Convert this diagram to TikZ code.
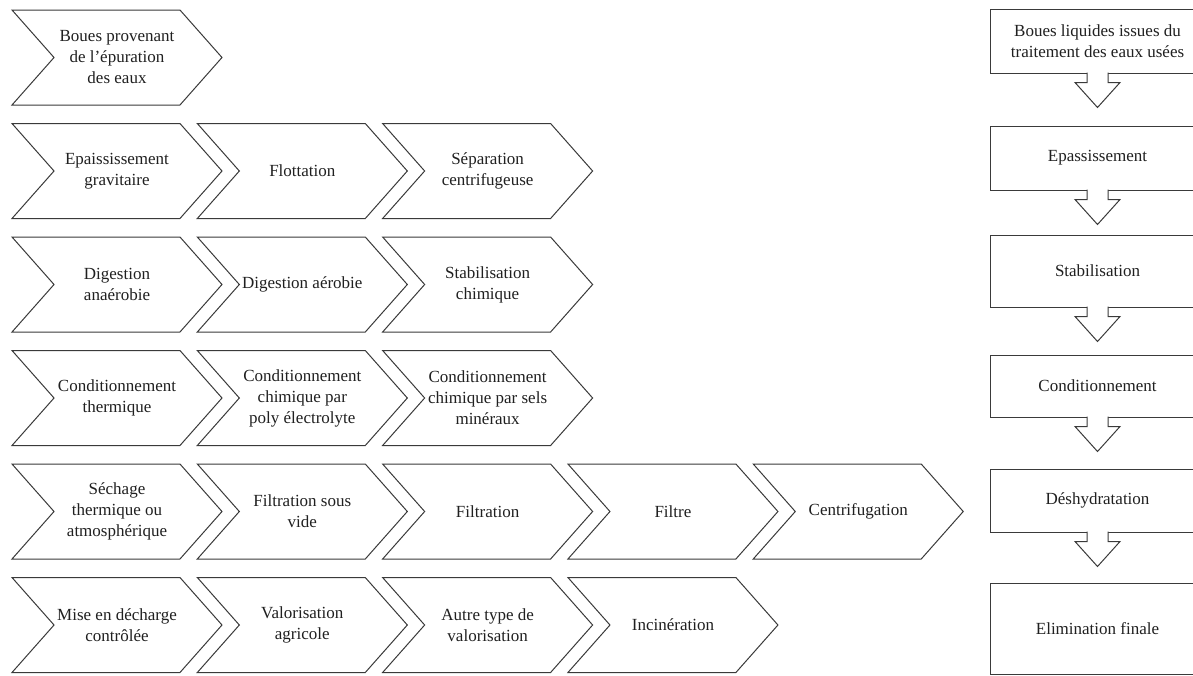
\documentclass[tikz,border=0pt]{standalone}
\usepackage{fontspec}
\setmainfont{Liberation Serif}
\usetikzlibrary{positioning,shapes.symbols}
\definecolor{linegray}{HTML}{3A3A3A}
\definecolor{txtgray}{HTML}{202020}
\newcommand{\lbl}{\fontsize{17}{21}\selectfont}

\begin{document}
\begin{tikzpicture}[
    x=1pt, y=1pt,
    chev/.style={signal, signal to=east, signal from=west, signal pointer angle=97, draw=linegray, line width=1pt, fill=white, minimum width=210pt, minimum height=95pt, inner sep=2pt, align=center, font=\lbl, text=txtgray},
    stage/.style={draw=linegray, line width=1pt, fill=white, minimum width=215pt, minimum height=64pt, align=center, font=\lbl, text=txtgray},
    downarrow/.style={draw=linegray, line width=1pt, fill=white}
]
\useasboundingbox (0,0) rectangle (1193,-675);
\clip (0,0) rectangle (1193,-675);

% filieres de traitement
\node[chev] (boues) at (117,-57.5) {Boues provenant\\de l’épuration\\des eaux};

\node[chev, below=17.5pt of boues] (epaiss) {Epaississement\\gravitaire};
\node[chev, right=16pt of epaiss] (flott) {Flottation};
\node[chev, right=16pt of flott] (sepcentri) {Séparation\\centrifugeuse};

\node[chev, below=17.5pt of epaiss] (digana) {Digestion\\anaérobie};
\node[chev, right=16pt of digana] (digaer) {Digestion aérobie};
\node[chev, right=16pt of digaer] (stabchim) {Stabilisation\\chimique};

\node[chev, below=17.5pt of digana] (condtherm) {Conditionnement\\thermique};
\node[chev, right=16pt of condtherm] (condpoly) {Conditionnement\\chimique par\\poly électrolyte};
\node[chev, right=16pt of condpoly] (condsels) {Conditionnement\\chimique par sels\\minéraux};

\node[chev, below=17.5pt of condtherm] (sechage) {Séchage\\thermique ou\\atmosphérique};
\node[chev, right=16pt of sechage] (filtvide) {Filtration sous\\vide};
\node[chev, right=16pt of filtvide] (filtration) {Filtration};
\node[chev, right=16pt of filtration] (filtre) {Filtre};
\node[chev, right=16pt of filtre] (centri) {Centrifugation};

\node[chev, below=17.5pt of sechage] (decharge) {Mise en décharge\\contrôlée};
\node[chev, right=16pt of decharge] (valoagri) {Valorisation\\agricole};
\node[chev, right=16pt of valoagri] (autrevalo) {Autre type de\\valorisation};
\node[chev, right=16pt of autrevalo] (incin) {Incinération};

% etapes
\node[stage] (bliq) at (1097.5,-41) {Boues liquides issues du\\traitement des eaux usées};
\node[stage, below=52pt of bliq] (epas) {Epassissement};
\node[stage, below=44pt of epas, minimum height=72pt] (stab) {Stabilisation};
\node[stage, below=47pt of stab, minimum height=62pt] (cond) {Conditionnement};
\node[stage, below=51pt of cond, minimum height=63pt] (deshyd) {Déshydratation};
\node[stage, below=50pt of deshyd, minimum height=91pt] (elim) {Elimination finale};

\foreach \s in {bliq,epas,stab,cond,deshyd}
  \draw[downarrow] ([xshift=-10.5pt,yshift=1pt]\s.south) -- ++(0,-10) -- ++(-12,0) -- ++(22.5,-25) -- ++(22.5,25) -- ++(-12,0) -- ++(0,10);
\end{tikzpicture}
\end{document}
